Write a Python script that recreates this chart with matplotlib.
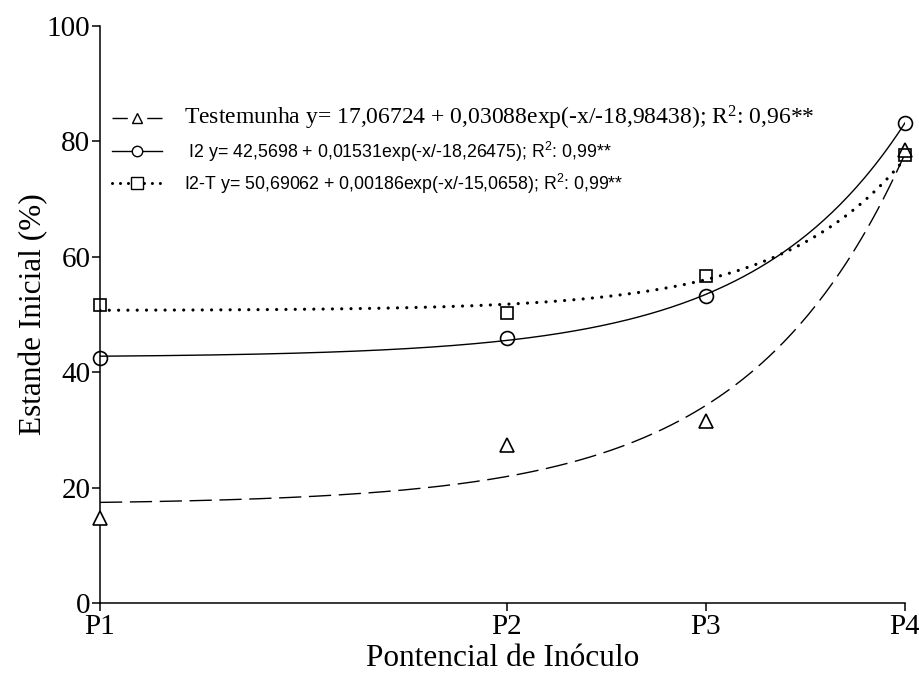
import numpy as np
import matplotlib.pyplot as plt
from matplotlib.lines import Line2D

plt.rcParams['mathtext.default'] = 'regular'

# inoculum levels and observed stand (%)
levels = ['P1', 'P2', 'P3', 'P4']
xpos = [47, 96, 120, 144]
testemunha = [14.8, 27.4, 31.6, 78.5]
i2 = [42.5, 45.9, 53.2, 83.2]
i2t = [51.7, 50.3, 56.7, 77.6]

# fitted models y = a + b*exp(-x/c)
fit_test = (17.06724, 0.03088, -18.98438)
fit_i2 = (42.5698, 0.01531, -18.26475)
fit_i2t = (50.69062, 0.00186, -15.0658)

serif = 'Liberation Serif'
sans = 'Liberation Sans'

def model(x, p):
    a, b, c = p
    return a + b * np.exp(-x / c)

xs = np.linspace(xpos[0], xpos[-1], 300)

fig = plt.figure(figsize=(9.2, 6.74), dpi=100)
ax = fig.add_axes([100 / 920, 1 - 603 / 674, 805 / 920, 577 / 674])

ax.plot(xs, model(xs, fit_test), color='black', lw=1.0, dashes=(16, 5.5))
ax.plot(xs, model(xs, fit_i2), color='black', lw=1.0)
ax.plot(xs, model(xs, fit_i2t), color='black', lw=2.3, dashes=(0.01, 2.9),
        dash_capstyle='round')

ax.plot(xpos, testemunha, ls='none', marker='^', ms=10, mfc='white',
        mec='black', mew=1.2, clip_on=False, zorder=3)
ax.plot(xpos, i2, ls='none', marker='o', ms=10, mfc='none',
        mec='black', mew=1.2, clip_on=False, zorder=3)
ax.plot(xpos, i2t, ls='none', marker='s', ms=9.3, mfc='none',
        mec='black', mew=1.2, clip_on=False, zorder=3)

ax.set_xlim(xpos[0], xpos[-1])
ax.set_ylim(0, 100)
ax.set_xticks(xpos)
ax.set_xticklabels(levels)
ax.set_yticks(range(0, 101, 20))
for s in ['top', 'right']:
    ax.spines[s].set_visible(False)
for s in ['left', 'bottom']:
    ax.spines[s].set_linewidth(1.1)
ax.tick_params(direction='out', length=6, width=1.1, labelsize=21)
ax.tick_params(axis='x', pad=2)
ax.tick_params(axis='y', pad=1)
for t in ax.get_xticklabels() + ax.get_yticklabels():
    t.set_fontfamily(serif)

ax.set_xlabel('Pontencial de Inóculo', fontsize=22.5, family=serif, labelpad=3)
ax.set_ylabel('Estande Inicial (%)', fontsize=22.5, family=serif, labelpad=-1)

handles = [
    Line2D([], [], color='black', lw=1.0, dashes=(11, 14), marker='^', ms=7,
           mfc='white', mec='black', mew=1.0),
    Line2D([], [], color='black', lw=1.0, marker='o', ms=7.5, mfc='white',
           mec='black', mew=1.0),
    Line2D([], [], color='black', lw=2.2, dashes=(0.01, 2.6),
           dash_capstyle='round', marker='s', ms=8, mfc='white', mec='black',
           mew=1.0),
]
labels = [
    'Testemunha y= 17,06724 + 0,03088exp(-x/-18,98438); R$^{2}$: 0,96**',
    ' I2 y= 42,5698 + 0,01531exp(-x/-18,26475); R$^{2}$: 0,99**',
    'I2-T y= 50,69062 + 0,00186exp(-x/-15,0658); R$^{2}$: 0,99**',
]
leg = ax.legend(handles, labels, loc='upper left', bbox_to_anchor=(0.0, 0.885),
                frameon=False, handlelength=2.6, handletextpad=1.1,
                labelspacing=0.4, fontsize=14, borderaxespad=0.2)
fonts = [serif, sans, sans]
sizes = [17, 12.8, 12.8]
for t, f, s in zip(leg.get_texts(), fonts, sizes):
    t.set_fontfamily(f)
    t.set_fontsize(s)

fig.savefig('out.png', dpi=100)
